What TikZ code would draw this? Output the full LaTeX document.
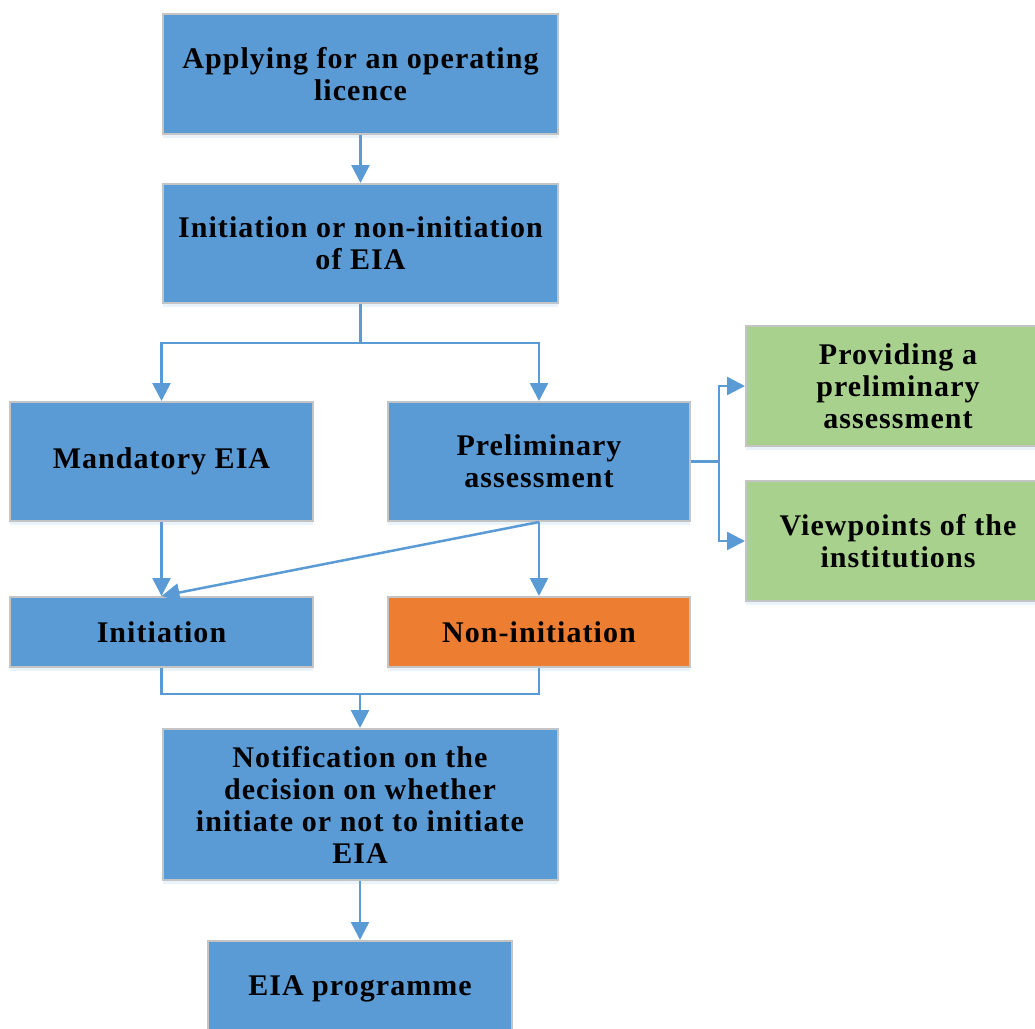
\documentclass[tikz,border=0pt]{standalone}
\usepackage{fontspec}
\usetikzlibrary{arrows.meta,shadows}
\newfontfamily\boxfont{Liberation Serif}[LetterSpace=3.5]
\definecolor{boxblue}{HTML}{5B9BD5}
\definecolor{boxgreen}{HTML}{A9D18E}
\definecolor{boxorange}{HTML}{ED7D31}
\definecolor{boxline}{HTML}{C4C4C4}
\definecolor{lineblue}{HTML}{5B9BD5}
\begin{document}
\begin{tikzpicture} [x=1pt,y=-1pt,
  blk/.style={rectangle, draw=boxline, line width=2pt, fill=boxblue, align=center, inner sep=0pt,
    font=\fontsize{30}{32}\selectfont\boxfont\bfseries,
    drop shadow={shadow xshift=0pt, shadow yshift=-4pt, opacity=0.12, fill=lineblue}},
  blkg/.style={blk, fill=boxgreen},
  blko/.style={blk, fill=boxorange},
  ln/.style={draw=lineblue, line width=2.5pt},
  arr/.style={ln, -{Triangle[width=18pt,length=18pt]}}]
  \clip (0,0) rectangle (1035,1028);

  \node[blk, minimum width=395, minimum height=120] (app) at (360.5,74) {Applying for an operating\\licence};
  \node[blk, minimum width=395, minimum height=119] (ini) at (360.5,243.5) {Initiation or non-initiation\\of EIA};

  \node[blk, minimum width=303, minimum height=119] (mand) at (161.5,461.5) {Mandatory EIA};
  \node[blk, minimum width=302, minimum height=119] (prel) at (539,461.5) {Preliminary\\assessment};

  \node[blkg, minimum width=304, minimum height=120] (prov) at (898,386) {Providing a\\preliminary\\assessment};
  \node[blkg, minimum width=304, minimum height=120] (view) at (898,541) {Viewpoints of the\\institutions};

  \node[blk, minimum width=303, minimum height=70] (init) at (161.5,632) {Initiation};
  \node[blko, minimum width=302, minimum height=70] (noni) at (539,632) {Non-initiation};

  \node[blk, minimum width=395, minimum height=151] (noti) at (360,804.5) {Notification on the\\decision on whether\\initiate or not to initiate\\EIA};
  \node[blk, minimum width=304, minimum height=96] (prog) at (360,989) {EIA programme};

    \draw[arr] (app) -- (ini);
    \draw[ln] (ini.south) -- ++(0,39) coordinate (split);
    \draw[arr] (split) -| (mand);
    \draw[arr] (split) -| (prel);

    \draw[ln] (prel.east) -- ++(28,0) coordinate (fork);
    \draw[arr] (fork) |- (prov);
    \draw[arr] (fork) |- (view);

    \draw[arr] (mand) -- (init);
    \draw[arr] (prel) -- (noni);
    \draw[arr] (prel.south) -- (init.north);

    \path (noti.north) ++(0,-34) coordinate (merge);
    \draw[ln] (init.south) |- (merge) -| (noni.south);
    \draw[arr] (merge) -- (noti);
    \draw[arr] (noti) -- (prog);

\end{tikzpicture}
\end{document}
